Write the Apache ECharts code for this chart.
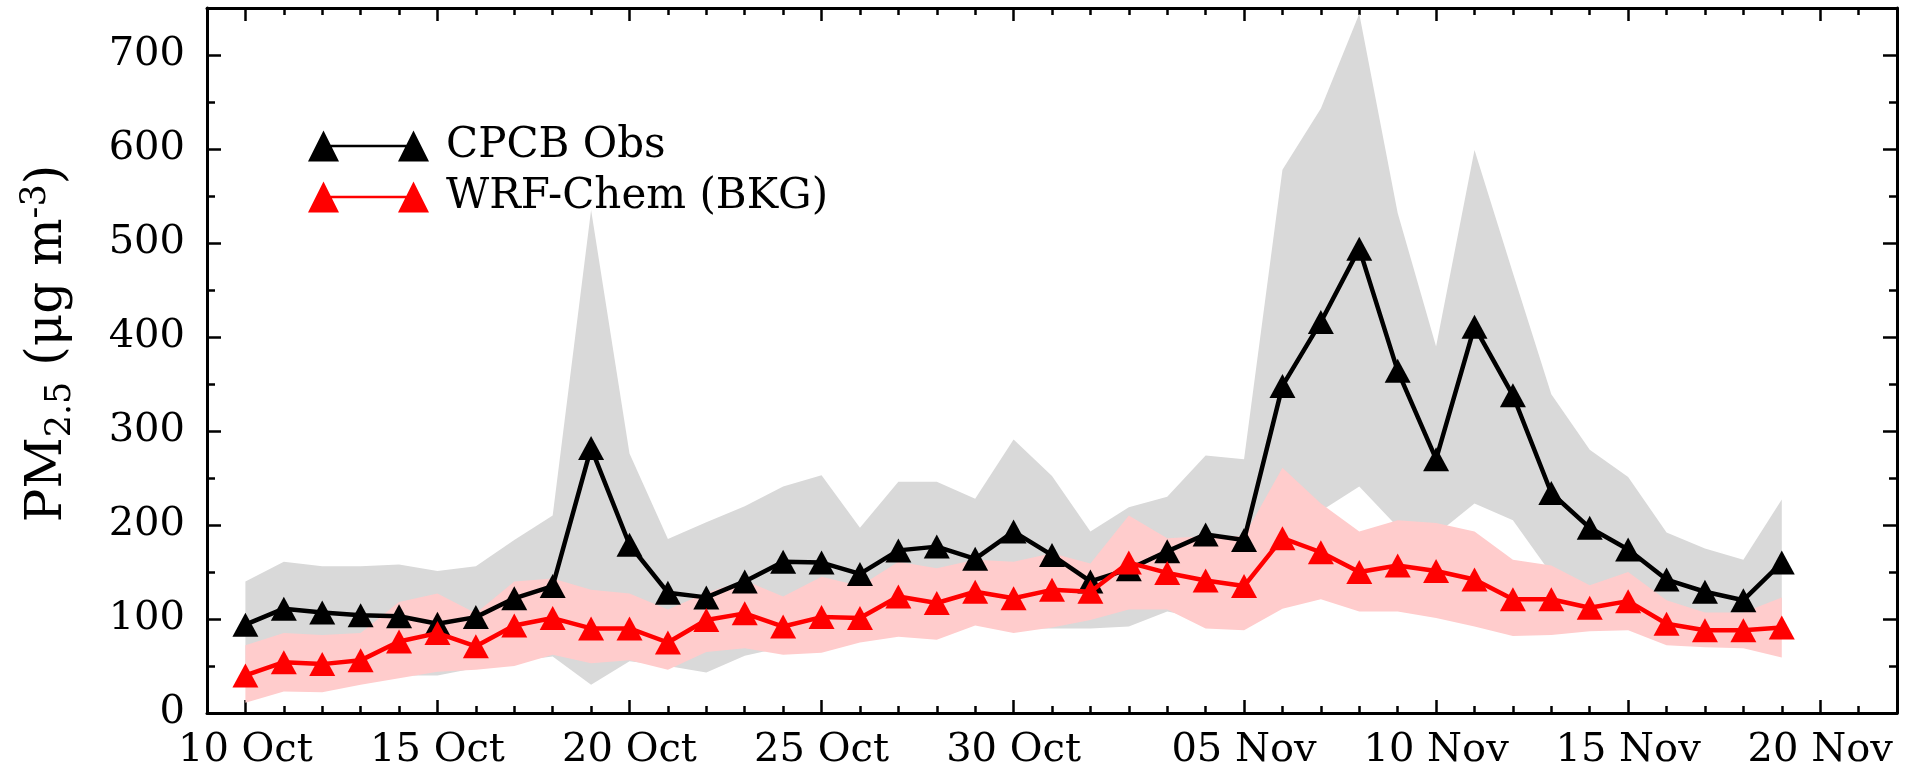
<!DOCTYPE html>
<html>
<head>
<meta charset="utf-8">
<title>PM2.5: CPCB observations and WRF-Chem (BKG)</title>
<script src="https://cdn.jsdelivr.net/npm/echarts@6/dist/echarts.min.js"></script>
<style>
  html, body { margin: 0; padding: 0; background: #ffffff; }
  #chart { width: 1913px; height: 772px; }
</style>
</head>
<body>
<div id="chart"></div>
<script>
// Daily dates, 10 Oct to 19 Nov
const dates = [
  '2017-10-10', '2017-10-11', '2017-10-12', '2017-10-13', '2017-10-14', '2017-10-15',
  '2017-10-16', '2017-10-17', '2017-10-18', '2017-10-19', '2017-10-20', '2017-10-21',
  '2017-10-22', '2017-10-23', '2017-10-24', '2017-10-25', '2017-10-26', '2017-10-27',
  '2017-10-28', '2017-10-29', '2017-10-30', '2017-10-31', '2017-11-01', '2017-11-02',
  '2017-11-03', '2017-11-04', '2017-11-05', '2017-11-06', '2017-11-07', '2017-11-08',
  '2017-11-09', '2017-11-10', '2017-11-11', '2017-11-12', '2017-11-13', '2017-11-14',
  '2017-11-15', '2017-11-16', '2017-11-17', '2017-11-18', '2017-11-19'
];

// CPCB observed PM2.5 (ug m-3): mean and spread across stations
const obsMean = [
   94, 111, 107, 104, 103,  95, 102, 122, 135, 282, 179, 128, 123, 140, 161, 160,
  148, 173, 177, 164, 193, 168, 140, 153, 172, 190, 184, 348, 416, 494, 364, 270,
  411, 338, 234, 197, 174, 142, 129, 120, 160
];
const obsLow = [
   30,  36,  36,  38,  40,  40,  48,  55,  60,  30,  55,  50,  43,  61,  70,  72,
   80,  85,  85,  95,  90,  90,  90,  92, 108, 100,  98, 120, 215, 241, 198, 190,
  223, 205, 148, 120, 120, 100,  90,  90,  90
];
const obsHigh = [
  140, 161, 156, 156, 158, 151, 156, 184, 210, 535, 276, 185, 203, 220, 241, 253,
  197, 246, 246, 228, 291, 252, 193, 219, 230, 274, 270, 578, 643, 744, 532, 390,
  599, 468, 339, 280, 251, 192, 175, 163, 227
];

// WRF-Chem (BKG) modelled PM2.5 (ug m-3): mean and spread
const wrfMean = [
   40,  54,  52,  56,  76,  85,  71,  93, 101,  90,  90,  75,  99, 106,  92, 102,
  101, 124, 117, 129, 122, 131, 129, 160, 149, 141, 135, 186, 171, 150, 157, 151,
  142, 121, 121, 112, 119,  95,  88,  88,  91
];
const wrfLow = [
   11,  23,  22,  30,  37,  44,  46,  50,  62,  53,  56,  46,  65,  69,  62,  64,
   75,  81,  78,  93,  85,  91,  99, 110, 110,  90,  88, 111, 121, 108, 108, 101,
   92,  82,  83,  87,  88,  72,  70,  69,  59
];
const wrfHigh = [
   72,  85,  83,  85, 118, 127, 106, 140, 143, 131, 127, 110, 128, 141, 124, 145,
  135, 161, 154, 163, 161, 170, 159, 210, 186, 188, 188, 261, 223, 193, 205, 202,
  193, 163, 157, 136, 150, 120, 107, 107, 123
];

// Axis ranges and tick labels
const xStart = '2017-10-09';
const xEnd = '2017-11-22';
const tickDates = [
  '2017-10-10', '2017-10-15', '2017-10-20', '2017-10-25', '2017-10-30',
  '2017-11-05', '2017-11-10', '2017-11-15', '2017-11-20'
];
const tickLabels = [
  '10 Oct', '15 Oct', '20 Oct', '25 Oct', '30 Oct',
  '05 Nov', '10 Nov', '15 Nov', '20 Nov'
];
const yMajorTicks = [0, 100, 200, 300, 400, 500, 600, 700];
const yMinorTicks = [50, 150, 250, 350, 450, 550, 650];
const yMax = 750;

const seriesNames = ['CPCB Obs', 'WRF-Chem (BKG)'];

// ---------------------------------------------------------------
// Dates are placed on a numeric axis in UTC milliseconds.
const utc = s => {
  const p = s.split('-').map(Number);
  return Date.UTC(p[0], p[1] - 1, p[2]);
};
const times = dates.map(utc);
const xMin = utc(xStart);
const xMax = utc(xEnd);
const majorTimes = tickDates.map(utc);
const labelByTime = {};
majorTimes.forEach((t, i) => { labelByTime[t] = tickLabels[i]; });

// one minor tick per day across the whole axis
const DAY = 86400000;
const minorTimes = [];
for (let t = xMin; t <= xMax; t += DAY) minorTimes.push(t);

const pairs = arr => times.map((t, i) => [t, arr[i]]);
const bandData = (lo, hi) => times.map((t, i) => [t, lo[i], hi[i]]);

const FONT = 'DejaVu Serif';
const INK = '#000000';
const AXIS_W = 3;
const TICK_W = 2.5;

// Shaded min-max envelope: one polygon through the upper edge and back along the lower edge
function bandRenderer(lo, hi, color) {
  return function (params, api) {
    if (params.dataIndex !== 0) return null;
    const upper = [];
    const lower = [];
    for (let j = 0; j < times.length; j++) {
      upper.push(api.coord([times[j], hi[j]]));
      lower.push(api.coord([times[j], lo[j]]));
    }
    return {
      type: 'polygon',
      shape: { points: upper.concat(lower.reverse()) },
      style: { fill: color, stroke: null },
      silent: true
    };
  };
}

function xAxisDef(position, ticks, len, showLine, showLabels) {
  return {
    type: 'value',
    position: position,
    min: xMin,
    max: xMax,
    scale: true,
    axisLine: { show: showLine, onZero: false, lineStyle: { color: INK, width: AXIS_W } },
    axisTick: { show: true, inside: true, length: len, customValues: ticks,
                lineStyle: { color: INK, width: TICK_W } },
    axisLabel: showLabels ? {
      show: true, customValues: majorTimes, margin: 18,
      fontFamily: FONT, fontSize: 40, color: INK,
      formatter: v => labelByTime[v] || ''
    } : { show: false },
    splitLine: { show: false }
  };
}

function yAxisDef(position, ticks, len, showLine, showLabels) {
  return {
    type: 'value',
    position: position,
    min: 0,
    max: yMax,
    axisLine: { show: showLine, onZero: false, lineStyle: { color: INK, width: AXIS_W } },
    axisTick: { show: true, inside: true, length: len, customValues: ticks,
                lineStyle: { color: INK, width: TICK_W } },
    axisLabel: showLabels ? {
      show: true, customValues: yMajorTicks, margin: 22,
      fontFamily: FONT, fontSize: 40, color: INK
    } : { show: false },
    splitLine: { show: false }
  };
}

const yMain = yAxisDef('left', yMajorTicks, 14, true, true);
yMain.name = '{a|PM}{s|2.5}{a| (μg m}{p|-3}{a|)}';
yMain.nameLocation = 'middle';
yMain.nameGap = 129;
yMain.nameTextStyle = {
  color: INK,
  fontFamily: FONT,
  padding: [0, 0, 0, 34],
  rich: {
    a: { fontFamily: FONT, fontSize: 50, color: INK, lineHeight: 60 },
    s: { fontFamily: FONT, fontSize: 35, color: INK, lineHeight: 27, verticalAlign: 'bottom' },
    p: { fontFamily: FONT, fontSize: 35, color: INK, lineHeight: 43, verticalAlign: 'top' }
  }
};

const chart = echarts.init(document.getElementById('chart'), null, { renderer: 'canvas' });

chart.setOption({
  animation: false,
  backgroundColor: '#ffffff',
  textStyle: { fontFamily: FONT },
  grid: { left: 207, right: 16, top: 8, bottom: 59, containLabel: false },
  legend: {
    data: seriesNames,
    orient: 'vertical',
    left: 303,
    top: 119,
    itemWidth: 121,
    itemHeight: 31,
    itemGap: 7,
    selectedMode: false,
    icon: 'path://M0,31L15.5,0L31,31Z M90,31L105.5,0L121,31Z M15.5,14.3L105.5,14.3L105.5,16.7L15.5,16.7Z',
    textStyle: { fontFamily: FONT, fontSize: 42, color: INK, lineHeight: 44, padding: [0, 0, 0, 12] }
  },
  xAxis: [
    xAxisDef('bottom', majorTimes, 13, true, true),
    xAxisDef('bottom', minorTimes, 7, false, false),
    xAxisDef('top', majorTimes, 13, true, false),
    xAxisDef('top', minorTimes, 7, false, false)
  ],
  yAxis: [
    yMain,
    yAxisDef('left', yMinorTicks, 8, false, false),
    yAxisDef('right', yMajorTicks, 14, true, false),
    yAxisDef('right', yMinorTicks, 8, false, false)
  ],
  series: [
    // observed spread (grey band)
    {
      type: 'custom', name: 'obsRange', data: bandData(obsLow, obsHigh),
      encode: { x: 0, y: [1, 2] }, renderItem: bandRenderer(obsLow, obsHigh, '#d9d9d9'),
      silent: true, z: 1
    },
    // modelled spread (pink band)
    {
      type: 'custom', name: 'wrfRange', data: bandData(wrfLow, wrfHigh),
      encode: { x: 0, y: [1, 2] }, renderItem: bandRenderer(wrfLow, wrfHigh, '#ffcccc'),
      silent: true, z: 2
    },
    // daily means
    {
      type: 'line', name: seriesNames[0], data: pairs(obsMean),
      symbol: 'triangle', symbolSize: [26, 24],
      lineStyle: { color: INK, width: 4.5 },
      itemStyle: { color: INK, borderWidth: 0 }, z: 3
    },
    {
      type: 'line', name: seriesNames[1], data: pairs(wrfMean),
      symbol: 'triangle', symbolSize: [26, 24],
      lineStyle: { color: '#ff0000', width: 4.5 },
      itemStyle: { color: '#ff0000', borderWidth: 0 }, z: 4
    }
  ]
});
</script>
</body>
</html>
